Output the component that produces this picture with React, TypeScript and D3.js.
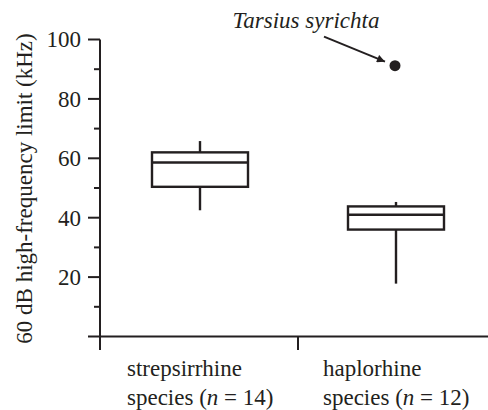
import { useEffect, useRef } from "react";
import * as d3 from "d3";

// categories and box summaries (kHz)
const categories = ["strepsirrhine", "haplorhine"];
const categoryCounts = [14, 12];
const whiskerLow = [42.5, 17.8];
const q1 = [50.4, 36.0];
const medians = [58.6, 41.0];
const q3 = [62.0, 43.8];
const whiskerHigh = [65.8, 45.3];

// outlier
const outlierCategory = "haplorhine";
const outlierValue = 91.2;
const outlierLabel = "Tarsius syrichta";

const majorTicks = [0, 20, 40, 60, 80, 100];
const minorTicks = [10, 30, 50, 70, 90];

const WIDTH = 488;
const HEIGHT = 410;
const INK = "#231f20";
const FONT = "'Liberation Serif', 'Times New Roman', serif";

export default function App() {
  const svgRef = useRef<SVGSVGElement>(null);

  useEffect(() => {
    document.body.style.margin = "0";
    if (!svgRef.current) return;
    const svg = d3.select(svgRef.current);
    svg.selectAll("*").remove();

    const y = d3.scaleLinear().domain([0, 100]).range([336.5, 39.5]);
    const x = d3.scaleBand<string>().domain(categories).range([102, 494]).padding(0);
    const axisX = 100;
    const boxHalf = 48;

    const g = svg.append("g").attr("fill", "none").attr("stroke", INK).attr("stroke-width", 2);

    // y axis line (runs a little below the x axis)
    g.append("line")
      .attr("x1", axisX).attr("x2", axisX)
      .attr("y1", y(100)).attr("y2", y(0) + 13.5);

    // x axis line
    g.append("line")
      .attr("x1", axisX - 12).attr("x2", WIDTH)
      .attr("y1", y(0)).attr("y2", y(0));

    // major / minor ticks
    g.selectAll(".major")
      .data(majorTicks.filter((d) => d > 0))
      .join("line")
      .attr("x1", axisX - 12).attr("x2", axisX)
      .attr("y1", (d) => y(d)).attr("y2", (d) => y(d));
    g.selectAll(".minor")
      .data(minorTicks)
      .join("line")
      .attr("class", "minor")
      .attr("x1", axisX - 6).attr("x2", axisX)
      .attr("y1", (d) => y(d)).attr("y2", (d) => y(d));

    // category separator tick
    g.selectAll(".xtick")
      .data(categories.slice(1))
      .join("line")
      .attr("class", "xtick")
      .attr("x1", (d) => x(d)!).attr("x2", (d) => x(d)!)
      .attr("y1", y(0)).attr("y2", y(0) + 13.5);

    // y tick labels
    svg.append("g")
      .selectAll("text")
      .data(majorTicks.filter((d) => d > 0))
      .join("text")
      .attr("x", axisX - 19)
      .attr("y", (d) => y(d))
      .attr("dy", "0.34em")
      .attr("text-anchor", "end")
      .attr("font-family", FONT)
      .attr("font-size", 23)
      .attr("fill", INK)
      .text((d) => d);

    // y title
    svg.append("text")
      .attr("transform", `translate(32, ${y(50) + 0.5}) rotate(-90)`)
      .attr("text-anchor", "middle")
      .attr("font-family", FONT)
      .attr("font-size", 23)
      .attr("fill", INK)
      .text("60 dB high-frequency limit (kHz)");

    // boxes
    categories.forEach((c, i) => {
      const cx = x(c)! + x.bandwidth() / 2;
      const box = svg.append("g").attr("stroke", INK).attr("stroke-width", 2.4).attr("fill", "none");
      box.append("line").attr("x1", cx).attr("x2", cx).attr("y1", y(whiskerHigh[i])).attr("y2", y(q3[i]));
      box.append("line").attr("x1", cx).attr("x2", cx).attr("y1", y(q1[i])).attr("y2", y(whiskerLow[i]));
      box.append("rect")
        .attr("x", cx - boxHalf).attr("width", boxHalf * 2)
        .attr("y", y(q3[i])).attr("height", y(q1[i]) - y(q3[i]));
      box.append("line")
        .attr("x1", cx - boxHalf).attr("x2", cx + boxHalf)
        .attr("y1", y(medians[i])).attr("y2", y(medians[i]));

      // category label
      const lbl = svg.append("text")
        .attr("font-family", FONT)
        .attr("font-size", 23)
        .attr("fill", INK);
      lbl.append("tspan").attr("x", cx - 73).attr("y", 376).text(c);
      const l2 = lbl.append("tspan").attr("x", cx - 73).attr("y", 405);
      l2.append("tspan").text("species (");
      l2.append("tspan").attr("font-style", "italic").text("n");
      l2.append("tspan").text(` = ${categoryCounts[i]})`);
    });

    // outlier + annotation
    const ox = x(outlierCategory)! + x.bandwidth() / 2 - 1;
    const oy = y(outlierValue);
    svg.append("circle").attr("cx", ox).attr("cy", oy).attr("r", 5.5).attr("fill", INK);

    svg.append("defs").append("marker")
      .attr("id", "arrow")
      .attr("viewBox", "0 0 10 10")
      .attr("refX", 10).attr("refY", 5)
      .attr("markerWidth", 5).attr("markerHeight", 4)
      .attr("markerUnits", "strokeWidth")
      .attr("orient", "auto")
      .append("path")
      .attr("d", "M0,0 L10,5 L0,10 Z")
      .attr("fill", INK);

    svg.append("line")
      .attr("x1", ox - 71).attr("y1", oy - 29)
      .attr("x2", ox - 10).attr("y2", oy - 4)
      .attr("stroke", INK).attr("stroke-width", 2)
      .attr("marker-end", "url(#arrow)");

    svg.append("text")
      .attr("x", ox - 89)
      .attr("y", 28)
      .attr("text-anchor", "middle")
      .attr("font-family", FONT)
      .attr("font-style", "italic")
      .attr("font-size", 23)
      .attr("fill", INK)
      .text(outlierLabel);
  }, []);

  return (
    <svg
      ref={svgRef}
      width={WIDTH}
      height={HEIGHT}
      viewBox={`0 0 ${WIDTH} ${HEIGHT}`}
      style={{ display: "block", background: "#fff" }}
    />
  );
}
